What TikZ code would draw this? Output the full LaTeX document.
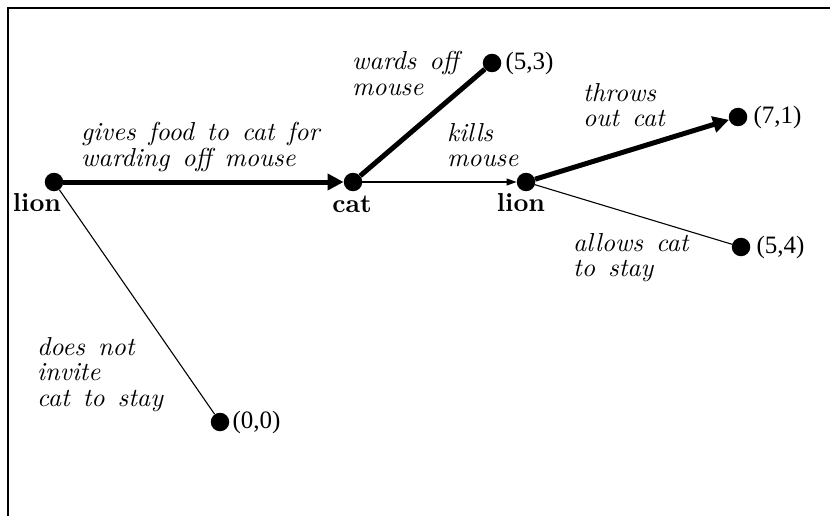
\documentclass[tikz,border=0pt]{standalone}
\usepackage{fontspec}
\newfontfamily\coordfont{Liberation Serif}
\newfontfamily\actfont{lmroman10-italic.otf}[WordSpace=1.4]
\newfontfamily\playerfont{lmroman10-bold.otf}
\usetikzlibrary{arrows.meta}

\begin{document}
\begin{tikzpicture}[x=1pt,y=-1pt,
  dot/.style={circle,fill=black,inner sep=0pt,minimum size=18.5pt},
  strong/.style={line width=5pt},
  weak/.style={line width=1.1pt},
  bigtip/.style={-{Triangle[length=16pt,width=16pt]}},
  smalltip/.style={-{Triangle[length=10pt,width=7pt]}},
  player/.style={font=\playerfont\fontsize{26}{26}\selectfont,inner sep=0pt,anchor=base},
  payoff/.style={font=\coordfont\fontsize{25}{25}\selectfont,inner sep=0pt,anchor=west},
  act/.style={font=\actfont\fontsize{26}{25.5}\selectfont,
    align=left,inner sep=0pt,anchor=north west}]

\useasboundingbox (0,0) rectangle (830,516);

% frame
\coordinate (fb) at (8,516);
\coordinate (fc) at (8,8);
\coordinate (fr) at (830,8);
\draw[line width=2pt] (fb) -- (fc) -- (fr);

% decision and terminal nodes
\node[dot] (l1) at (54,182) {};
\node[dot] (c)  at (353,182) {};
\node[dot] (l2) at (526,182) {};
\node[dot] (t53) at (492,63) {};
\node[dot] (t71) at (738,117) {};
\node[dot] (t54) at (741,247) {};
\node[dot] (t00) at (220,422) {};

% moves
\draw[strong,bigtip] (l1) -- (c);
\draw[weak] (l1) -- (t00);
\draw[strong] (c) -- (t53);
\draw[weak,smalltip] (c) -- (l2);
\draw[strong,bigtip] (l2) -- (t71);
\draw[weak] (l2) -- (t54);

% players
\node[player] (p1) at (37,211) {lion};
\node[player] (p2) at (352,212) {cat};
\node[player] (p3) at (521,211) {lion};

% payoffs
\node[payoff] (v53) at ([xshift=4pt]t53.east) {(5,3)};
\node[payoff] (v71) at ([xshift=6pt]t71.east) {(7,1)};
\node[payoff] (v54) at ([xshift=6pt]t54.east) {(5,4)};
\node[payoff] (v00) at ([xshift=3pt]t00.east) {(0,0)};

% action labels
\node[act] (a1) at (81,122) {gives food to cat for\\warding off mouse};
\node[act] (a2) at (352,51) {wards off\\mouse};
\node[act] (a3) at (447,123) {kills\\mouse};
\node[act] (a4) at (583,83) {throws\\out cat};
\node[act] (a5) at (573,233) {allows cat\\to stay};
\node[act] (a6) at (37,337) {does not\\invite\\cat to stay};
\end{tikzpicture}
\end{document}
